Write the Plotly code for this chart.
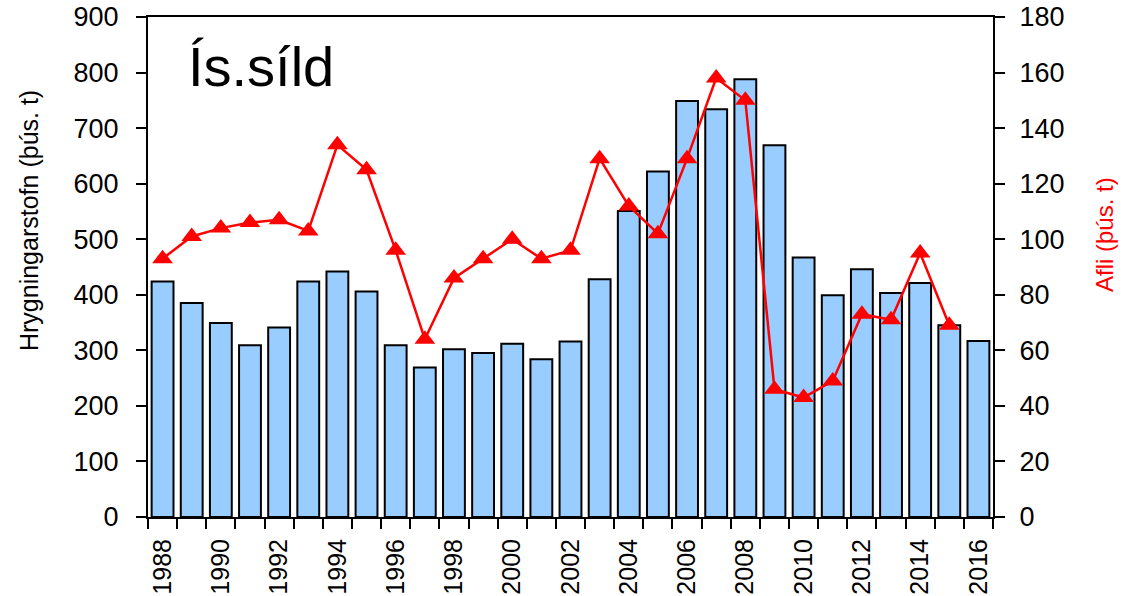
import plotly.graph_objects as go

years = list(range(1988, 2017))
ssb = [424, 385, 349, 309, 341, 424, 442, 406, 309, 269, 302, 295, 312, 284, 316,
       428, 551, 622, 749, 734, 788, 669, 467, 399, 446, 403, 421, 345, 317]
catch_years = list(range(1988, 2016))
catch = [93, 101, 104, 106, 107, 103, 134, 125, 96, 64, 86, 93, 100, 93, 96,
         129, 112, 102, 129, 158, 150, 46, 43, 49, 73, 71, 95, 69]
label_years = list(range(1988, 2017, 2))

fig = go.Figure()
fig.add_trace(go.Bar(
    x=years, y=ssb, width=0.75,
    marker=dict(color="#99CCFF", line=dict(color="black", width=2)),
    yaxis="y", name="Hrygningarstofn"))
fig.add_trace(go.Scatter(
    x=catch_years, y=catch, mode="lines+markers",
    line=dict(color="#FF0000", width=2.5),
    marker=dict(symbol="triangle-up", size=18, color="#FF0000"),
    yaxis="y2", name="Afli"))

sans = "Liberation Sans, Arial, sans-serif"
tickfont = dict(family=sans, size=27, color="black")

fig.update_layout(
    width=1124, height=596,
    margin=dict(l=148, r=131, t=17, b=79),
    paper_bgcolor="white", plot_bgcolor="white",
    showlegend=False, bargap=0.25,
    xaxis=dict(
        range=[1987.5, 2016.5], tickmode="array", tickvals=label_years,
        ticktext=[str(y) for y in label_years], tickangle=-90,
        ticks="outside", ticklen=10, tickcolor="rgba(0,0,0,0)",
        tickfont=dict(family=sans, size=25, color="black"),
        showline=True, linecolor="black", linewidth=2, mirror=True,
        showgrid=False, zeroline=False, automargin=False,
        ticklabeloverflow="allow",
        minor=dict(tickmode="linear", tick0=1987.5, dtick=1, ticks="outside",
                   ticklen=10, tickwidth=2, tickcolor="black", showgrid=False),
    ),
    yaxis=dict(
        range=[0, 900], dtick=100, ticks="outside", ticklen=10, tickwidth=2,
        tickcolor="black", tickfont=tickfont, showline=True, linecolor="black",
        linewidth=2, showgrid=False, zeroline=False, automargin=False,
        ticklabelstandoff=12, ticklabeloverflow="allow",
    ),
    yaxis2=dict(
        range=[0, 180], dtick=20, overlaying="y", side="right", ticks="outside",
        ticklen=10, tickwidth=2, tickcolor="black", tickfont=tickfont,
        showline=True, linecolor="black", linewidth=2, showgrid=False,
        zeroline=False, automargin=False, ticklabelstandoff=9,
        ticklabeloverflow="allow",
    ),
    annotations=[
        dict(text="Ís.síld", xref="paper", yref="paper", x=0.045, y=0.968,
             xanchor="left", yanchor="top", showarrow=False,
             font=dict(family=sans, size=56, color="black")),
        dict(text="Hrygningarstofn (þús. t)", xref="paper", yref="paper",
             x=-0.1408, y=0.592, textangle=-90, showarrow=False,
             xanchor="center", yanchor="middle",
             font=dict(family=sans, size=25, color="black")),
        dict(text="Afli (þús. t)", xref="paper", yref="paper",
             x=1.1314, y=0.564, textangle=-90, showarrow=False,
             xanchor="center", yanchor="middle",
             font=dict(family=sans, size=24, color="#FF0000")),
    ],
)

fig.write_html("out.html", config={"displayModeBar": False},
               post_script="document.body.style.margin='0';")
